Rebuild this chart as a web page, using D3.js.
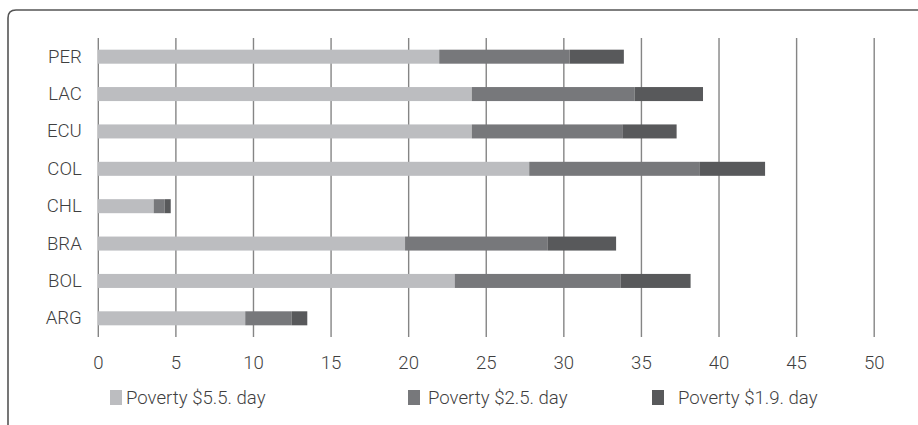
<!DOCTYPE html>
<html>
<head>
<meta charset="utf-8">
<script src="https://cdn.jsdelivr.net/npm/d3@7"></script>
<style>
  html, body { margin: 0; padding: 0; background: #fff; }
  svg { display: block; }
  text { font-family: Roboto, "Noto Sans", sans-serif; }
</style>
</head>
<body>
<svg id="chart" width="918" height="425"></svg>
<script>
// Countries, top to bottom
const categories = ["PER", "LAC", "ECU", "COL", "CHL", "BRA", "BOL", "ARG"];
// Stacked segments (percent of population)
const poverty55 = [22.0, 24.1, 24.1, 27.8, 3.6, 19.8, 23.0, 9.5];
const poverty25 = [8.4, 10.5, 9.7, 11.0, 0.7, 9.2, 10.7, 3.0];
const poverty19 = [3.5, 4.4, 3.5, 4.2, 0.4, 4.4, 4.5, 1.0];
const seriesNames = ["Poverty $5.5. day", "Poverty $2.5. day", "Poverty $1.9. day"];
const colors = ["#bcbdc0", "#77787b", "#58595b"];
const xTicks = [0, 5, 10, 15, 20, 25, 30, 35, 40, 45, 50];

const textColor = "#3f3f3f";
const fontSize = "18.6px";

const svg = d3.select("#chart");

// Frame: rounded corner top-left, open towards right and bottom
const r = 8;
svg.append("path")
  .attr("d", `M8,425 L8,${10 + r} Q8,10 ${8 + r},10 L918,10`)
  .attr("fill", "none")
  .attr("stroke", "#555")
  .attr("stroke-width", 1.6);

const plotTop = 38, plotBottom = 337;
const x = d3.scaleLinear().domain([0, 50]).range([97.8, 873.7]);
const y = d3.scaleBand().domain(categories).range([plotTop, plotBottom])
  .paddingInner(0.625).paddingOuter(0.3125);

// Vertical gridlines
const grid = svg.append("g")
  .attr("transform", `translate(0,${plotBottom})`)
  .call(d3.axisBottom(x).tickValues(xTicks).tickSize(-(plotBottom - plotTop)).tickFormat(""));
grid.select(".domain").remove();
grid.selectAll(".tick line").attr("stroke", "#858585").attr("stroke-width", 1.4);

// Stack the three series
const rows = categories.map((c, i) => ({ cat: c, s0: poverty55[i], s1: poverty25[i], s2: poverty19[i] }));
const stacked = d3.stack().keys(["s0", "s1", "s2"])(rows);

svg.append("g").selectAll("g")
  .data(stacked)
  .join("g")
  .attr("fill", (d, i) => colors[i])
  .selectAll("rect")
  .data(d => d)
  .join("rect")
  .attr("x", d => x(d[0]))
  .attr("width", d => x(d[1]) - x(d[0]))
  .attr("y", d => y(d.data.cat))
  .attr("height", y.bandwidth());

// X tick labels
const xAxis = svg.append("g")
  .attr("transform", `translate(0,${plotBottom})`)
  .call(d3.axisBottom(x).tickValues(xTicks).tickSize(0).tickPadding(19));
xAxis.select(".domain").remove();
xAxis.selectAll("text")
  .attr("fill", textColor)
  .style("font-size", fontSize).style("font-weight", 300);

// Category labels
const yAxis = svg.append("g")
  .attr("transform", `translate(${x(0)},0)`)
  .call(d3.axisLeft(y).tickSize(0).tickPadding(16));
yAxis.select(".domain").remove();
yAxis.selectAll("text")
  .attr("fill", textColor)
  .style("font-size", fontSize).style("font-weight", 300);

// Legend
const legendX = [110, 408, 652];
const legendTextX = [126, 428, 678];
const legend = svg.append("g");
seriesNames.forEach((name, i) => {
  legend.append("rect")
    .attr("x", legendX[i]).attr("y", 390)
    .attr("width", 12).attr("height", 15)
    .attr("fill", colors[i]);
  legend.append("text")
    .attr("x", legendTextX[i]).attr("y", 404)
    .attr("fill", textColor)
    .style("font-size", fontSize).style("font-weight", 300)
    .text(name);
});
</script>
</body>
</html>
